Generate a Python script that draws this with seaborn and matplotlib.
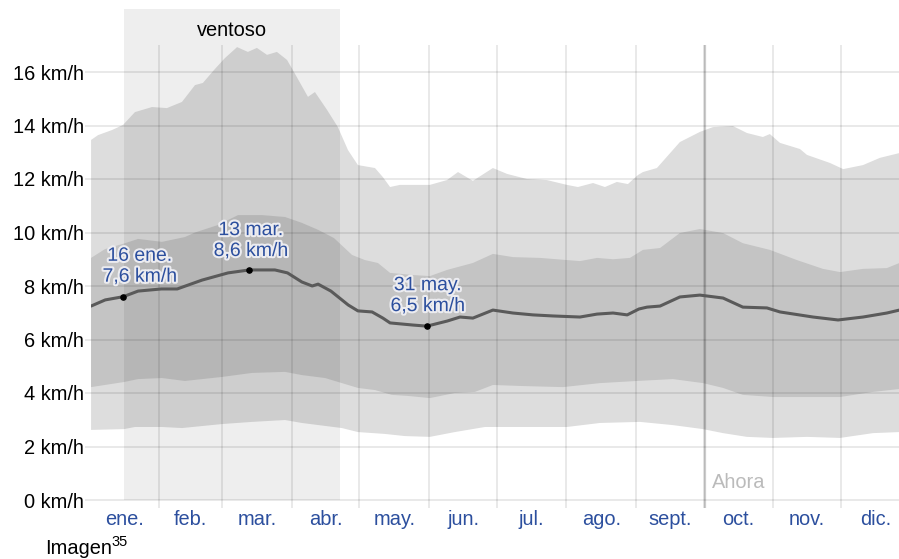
import numpy as np
import pandas as pd
import seaborn as sns
import matplotlib.pyplot as plt
import matplotlib.patheffects as pe

# percentiles of daily mean wind speed (km/h)
p90_day = [0.7, 3.8, 10, 14.9, 20.2, 27.8, 34.4, 41.1, 46.9, 50.4, 55.3, 60.2, 65.6, 70.4, 74.4,
           78.9, 83.3, 87.8, 90.4, 97.1, 100.2, 105.6, 110.4, 114.9, 119.3, 126.9, 130.4, 133.6, 138, 145.6,
           151.3, 158.9, 163.8, 170.4, 179.3, 185.6, 194.4, 203.3, 212.2, 217.1, 223.8, 229.1, 234.4, 239.3, 243.8,
           246, 252.2, 262.4, 271.3, 277.1, 286, 292.2, 299.3, 302.4, 306.9, 315.8, 318.9, 329.1, 335, 343.8,
           351.3, 360]
p90_kmh = [13.46, 13.64, 13.83, 14.02, 14.5, 14.69, 14.65, 14.88, 15.51, 15.59, 16.07, 16.52, 16.93, 16.75, 16.9,
           16.64, 16.75, 16.45, 16.07, 15.07, 15.25, 14.58, 13.94, 13.08, 12.52, 12.41, 12.07, 11.7, 11.78, 11.78,
           11.78, 11.96, 12.26, 11.93, 12.41, 12.19, 12.0, 11.96, 11.78, 11.7, 11.85, 11.7, 11.89, 11.81, 12.15,
           12.26, 12.41, 13.38, 13.76, 13.94, 13.98, 13.72, 13.57, 13.68, 13.35, 13.12, 12.9, 12.6, 12.37, 12.52,
           12.79, 12.97]

p75_day = [0.7, 6.9, 15.8, 21.6, 32.2, 42.4, 46.9, 57.1, 66, 76.7, 86.9, 94.4, 101.6, 108.7, 116.7,
           122.4, 128.2, 133.6, 143.8, 151.3, 158.9, 170.4, 179.3, 188.2, 200.2, 212.2, 218, 225.6, 232.7, 240.2,
           246, 253.6, 262.4, 271.3, 281.6, 290.4, 302.4, 314.4, 326, 333.6, 343.8, 354.4, 360]
p75_kmh = [9.05, 9.38, 9.6, 9.76, 9.65, 9.83, 10.0, 10.28, 10.65, 10.65, 10.58, 10.36, 10.1, 9.79, 9.16,
           8.97, 8.86, 8.49, 8.41, 8.37, 8.6, 8.86, 9.2, 9.08, 9.05, 8.97, 8.93, 9.05, 9.0, 9.05,
           9.35, 9.42, 9.98, 10.13, 9.98, 9.6, 9.35, 8.97, 8.64, 8.52, 8.64, 8.67, 8.86]

p25_day = [0.7, 15.3, 21.6, 32.2, 42.4, 58.9, 72.2, 86.9, 94.4, 104.7, 112.2, 119.3, 126.9, 134.4, 141.6,
           151.3, 162.4, 171.3, 179.3, 192.7, 210.4, 226.9, 243.3, 259.3, 272.7, 281.6, 290.4, 303.8, 318.9, 333.6,
           348.2, 360]
p25_kmh = [4.22, 4.41, 4.52, 4.56, 4.45, 4.6, 4.75, 4.79, 4.67, 4.56, 4.37, 4.19, 4.11, 3.93, 3.89,
           3.81, 4.0, 4.04, 4.3, 4.26, 4.22, 4.37, 4.45, 4.52, 4.37, 4.19, 3.93, 3.85, 3.85, 3.85,
           4.04, 4.15]

p10_day = [0.7, 15.3, 20.2, 32.2, 41.1, 58.9, 72.2, 86.9, 94.4, 104.7, 112.2, 119.3, 131.3, 140.2, 151.3,
           162.4, 175.8, 195.8, 212.2, 226.9, 244.7, 259.3, 272.7, 281.6, 292.2, 303.8, 318.9, 333.6, 348.2, 360]
p10_kmh = [2.62, 2.65, 2.73, 2.73, 2.69, 2.84, 2.92, 2.99, 2.88, 2.77, 2.69, 2.54, 2.47, 2.39, 2.36,
           2.54, 2.73, 2.73, 2.73, 2.88, 2.92, 2.8, 2.65, 2.5, 2.36, 2.32, 2.36, 2.32, 2.5, 2.54]

median_day = [0.7, 7, 15, 21.6, 32, 39, 50, 61.6, 71, 82.4, 88, 94.4, 99, 101.6, 107.3,
              115, 119.3, 125.6, 130.4, 133.6, 143.8, 150, 159, 164.7, 170.4, 179.3, 188.2, 197.1, 206, 218,
              225.6, 232.7, 239, 244.2, 247.8, 253.6, 262.4, 271.3, 281.6, 290.4, 301.1, 306.9, 321.6, 332.7, 343.8,
              354.4, 360]
median_kmh = [7.25, 7.48, 7.6, 7.81, 7.89, 7.89, 8.22, 8.49, 8.6, 8.6, 8.49, 8.15, 8.0, 8.07, 7.81,
              7.29, 7.07, 7.03, 6.8, 6.62, 6.54, 6.5, 6.69, 6.84, 6.8, 7.1, 6.99, 6.92, 6.88, 6.84,
              6.95, 6.99, 6.92, 7.14, 7.21, 7.25, 7.59, 7.66, 7.55, 7.21, 7.18, 7.03, 6.84, 6.73, 6.84,
              6.99, 7.1]

annot_day = [15, 71, 150]
annot_kmh = [7.6, 8.6, 6.5]
annot_text = ["16 ene.\n7,6 km/h", "13 mar.\n8,6 km/h", "31 may.\n6,5 km/h"]
annot_text_day = [22.4, 71.8, 150.4]
annot_text_kmh = [8.72, 9.68, 7.62]

month_names = ["ene.", "feb.", "mar.", "abr.", "may.", "jun.", "jul.", "ago.", "sept.", "oct.", "nov.", "dic."]
month_len = [31, 28, 31, 30, 31, 30, 31, 31, 30, 31, 30, 31]

windy_start, windy_end = 15.3, 111.3
now_day = 273.5

sns.set_style("white")
plt.rcParams['font.family'] = ['Liberation Sans', 'DejaVu Sans']

W, H = 899, 559
fig = plt.figure(figsize=(W / 100, H / 100), dpi=100)
ax = fig.add_axes([91 / W, (H - 500) / H, (W - 91) / W, (500 - 9) / H])
ymax = (500 - 9) / 26.75
ax.set_xlim(0.67, 359.8)
ax.set_ylim(0, ymax)

# bands
ax.fill(p90_day + p10_day[::-1], p90_kmh + p10_kmh[::-1], color="#dddddd", lw=0, zorder=1)
ax.fill(p75_day + p25_day[::-1], p75_kmh + p25_kmh[::-1], color="#c4c4c4", lw=0, zorder=1.5)

# windy season
ax.axvspan(windy_start, windy_end, color="black", alpha=0.067, lw=0, zorder=2)
ax.text((windy_start + windy_end) / 2, (500 - 30) / 26.75, "ventoso", ha="center", va="center",
        fontsize=14.4, color="black", zorder=6)

# grid
month_start = np.cumsum([0] + month_len)
grid_c = (0, 0, 0, 0.1)
ax.hlines(np.arange(0, 17, 2), -2.2, 359.8, colors=[grid_c], lw=1.2, zorder=3, clip_on=False)
ax.vlines(month_start[1:12], -0.3, 17, colors=[grid_c], lw=1.2, zorder=3, clip_on=False)
ax.vlines([now_day], -0.3, 17, colors=[(0, 0, 0, 0.2)], lw=1.6, zorder=3, clip_on=False)
ax.text(now_day + 3, 0.64, "Ahora", color="#bbbbbb", fontsize=14.4, va="center", ha="left", zorder=6)

# median
df = pd.DataFrame({"day": median_day, "kmh": median_kmh})
sns.lineplot(data=df, x="day", y="kmh", ax=ax, color="#5a5a5a", lw=2.2, zorder=4)

ax.scatter(annot_day, annot_kmh, s=14, color="black", zorder=5)
for tx, ty, t in zip(annot_text_day, annot_text_kmh, annot_text):
    ax.text(tx, ty, t, ha="center", va="center", fontsize=14, color="#2c4f9e", linespacing=1.3,
            zorder=6, path_effects=[pe.withStroke(linewidth=3, foreground="#ececf0")])

ax.set_xticks(month_start[:12] + np.array(month_len) / 2)
ax.set_xticklabels(month_names, color="#2c4f9e", fontsize=14.4)
ax.set_yticks(np.arange(0, 17, 2))
ax.set_yticklabels([f"{v} km/h" for v in range(0, 17, 2)], fontsize=14.4, color="black")
ax.tick_params(axis="both", length=0)
ax.tick_params(axis="x", pad=7)
ax.tick_params(axis="y", pad=5)
ax.set_xlabel("")
ax.set_ylabel("")
for s in ax.spines.values():
    s.set_visible(False)

fig.text(45 / W, 1 - 554 / H, "Imagen", fontsize=14.4, color="black", ha="left", va="baseline")
fig.text(111 / W, 1 - 546 / H, "35", fontsize=10.5, color="black", ha="left", va="baseline")

fig.savefig("out.png", dpi=100)
